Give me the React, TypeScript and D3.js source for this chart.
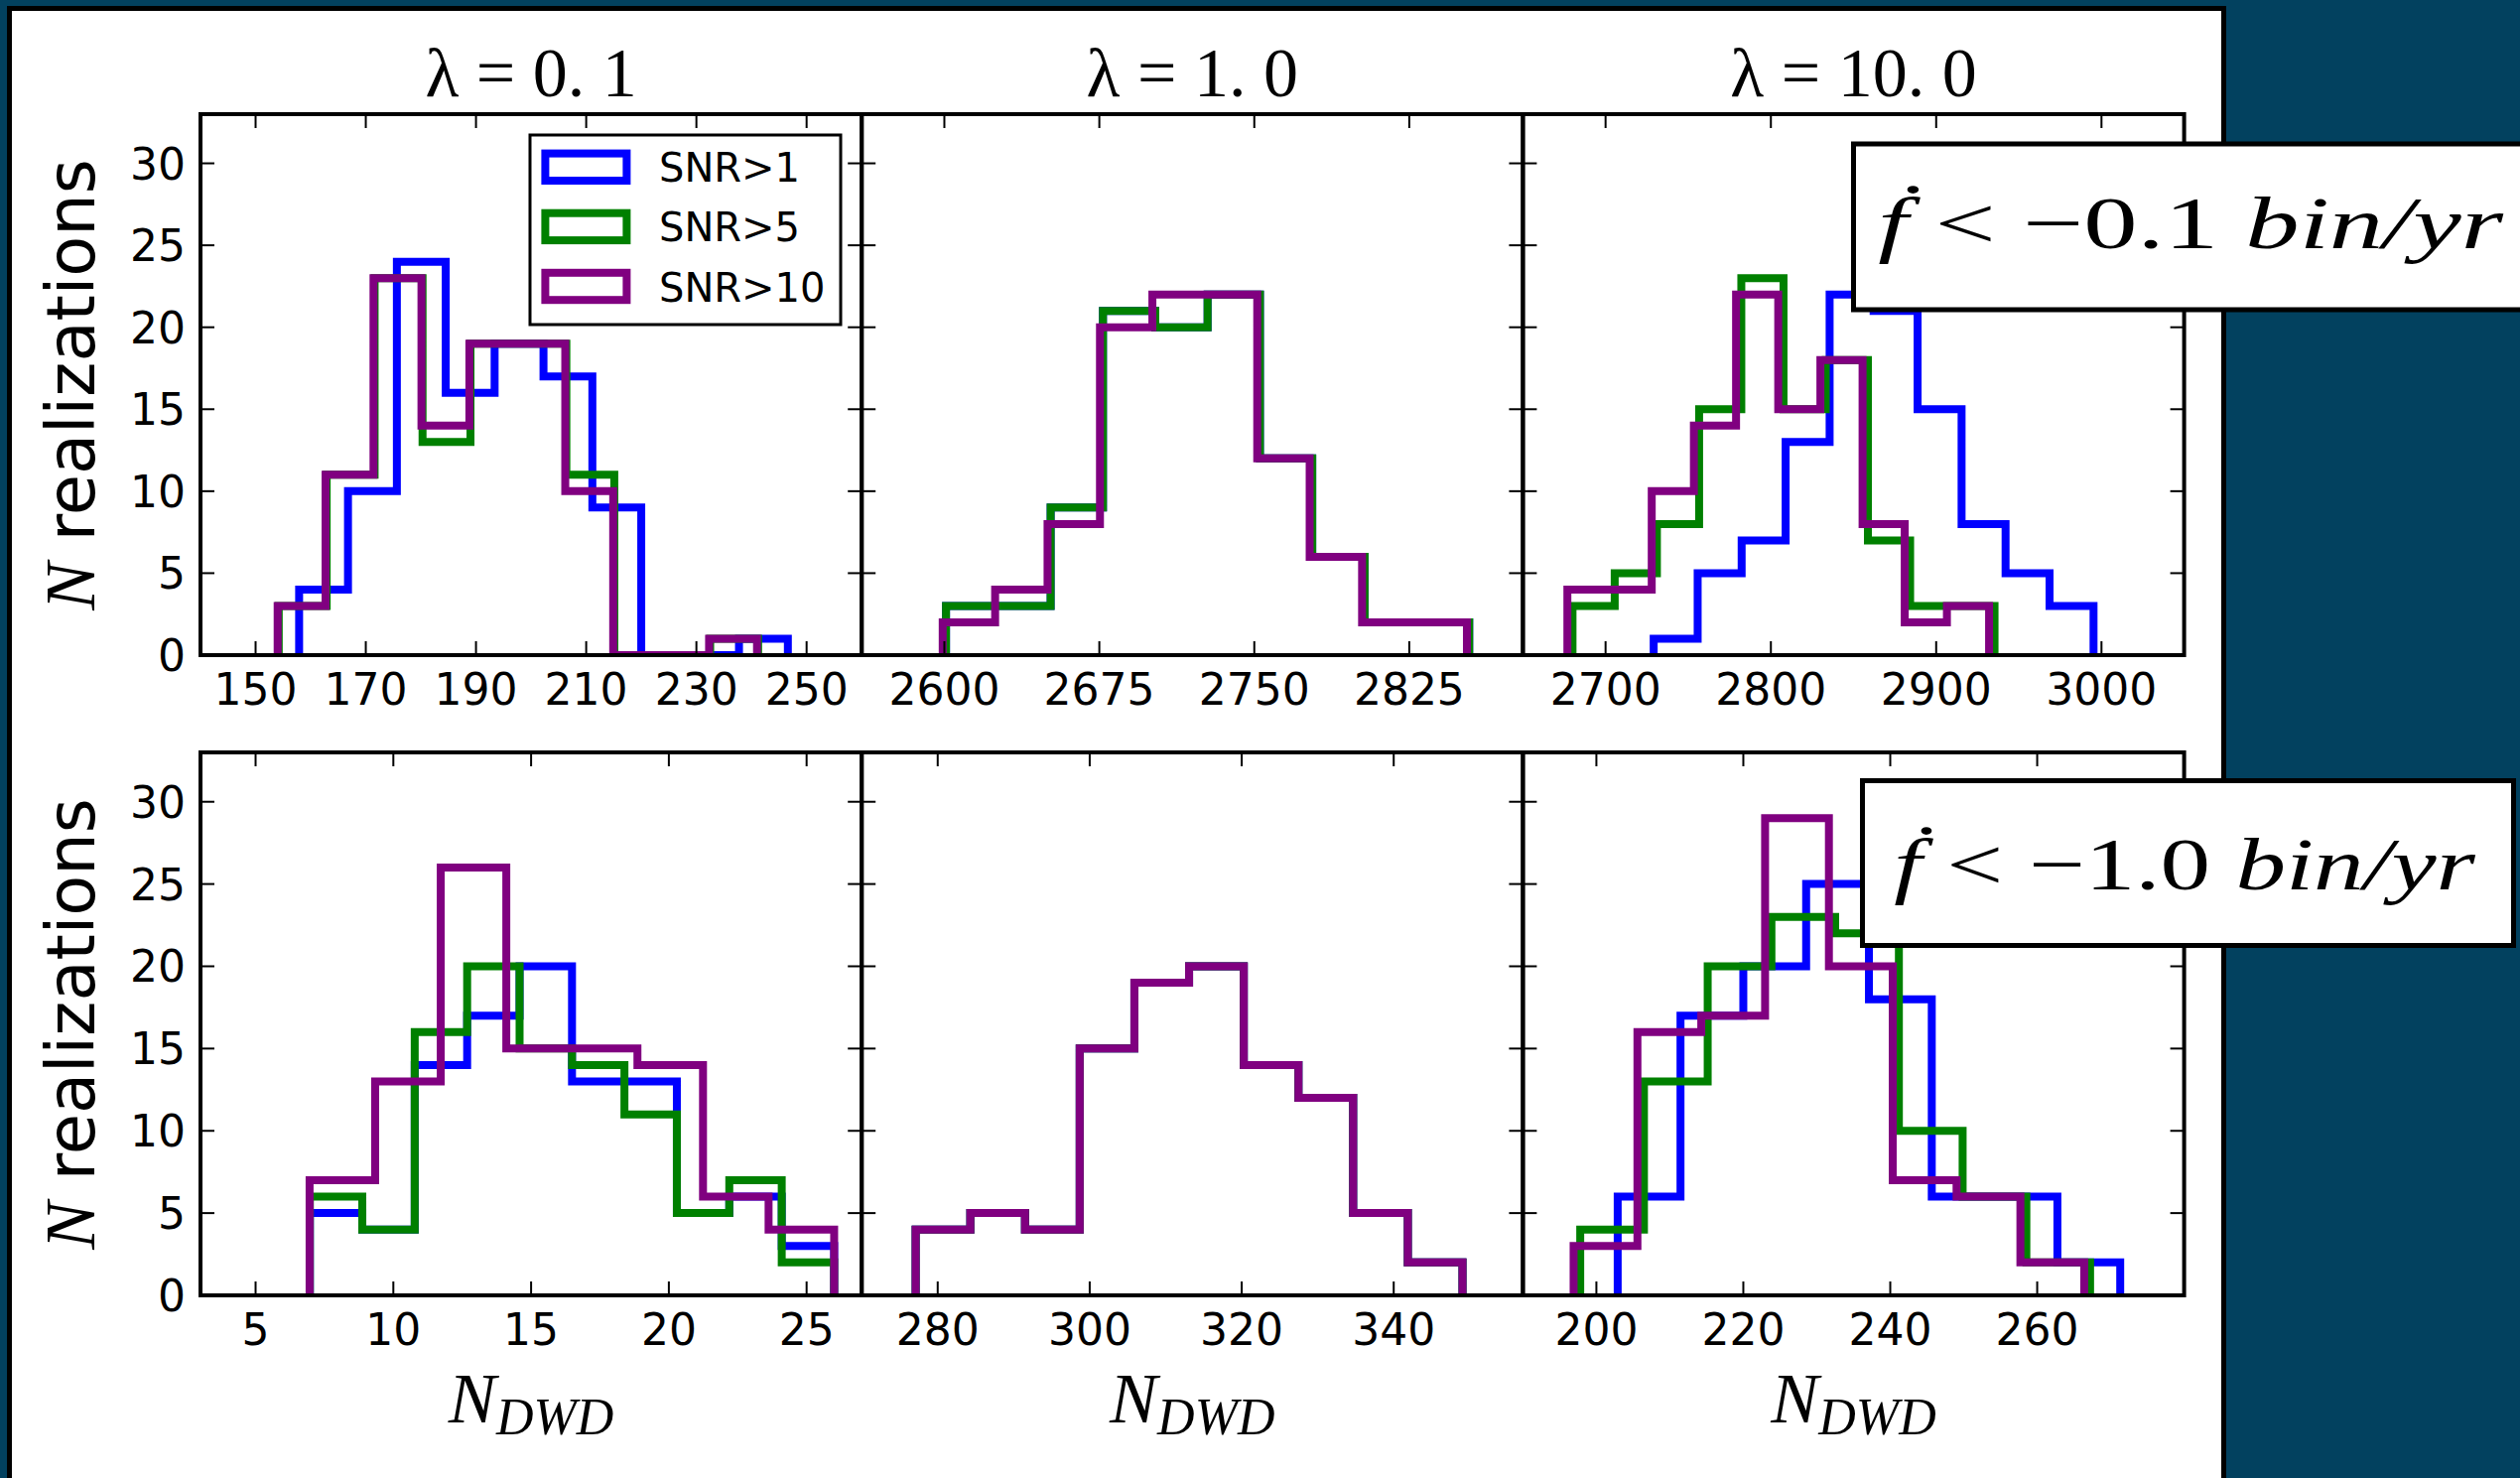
import React from 'react';
import * as d3 from 'd3';

const W = 2539;
const H = 1489;

// series + shared axis stuff
const seriesNames = ['SNR>1', 'SNR>5', 'SNR>10'];
const seriesColors = ['#0000ff', '#008000', '#800080'];
const columnTitles = ['0. 1', '1. 0', '10. 0'];
const rowNotes = ['−0.1', '−1.0'];
const yTicks = [0, 5, 10, 15, 20, 25, 30];
const yMax = 33;

// top row: fdot < -0.1 bin/yr
const xDomainsTop = [[140, 260], [2560, 2880], [2650, 3050]];
const xTicksTop = [
  [150, 170, 190, 210, 230, 250],
  [2600, 2675, 2750, 2825],
  [2700, 2800, 2900, 3000],
];
const rangesTopL01 = [[157.9, 246.6], [154.2, 241.2], [154.0, 241.0]];
const countsTopL01 = [
  [4, 10, 24, 16, 19, 17, 9, 0, 0, 1],
  [3, 11, 23, 13, 19, 19, 11, 0, 0, 1],
  [3, 11, 23, 14, 19, 19, 10, 0, 0, 1],
];
const rangesTopL1 = [[2600.8, 2854.0], [2600.8, 2854.0], [2599.2, 2852.9]];
const countsTopL1 = [
  [3, 3, 9, 21, 20, 22, 12, 6, 2, 2],
  [3, 3, 9, 21, 20, 22, 12, 6, 2, 2],
  [2, 4, 8, 20, 22, 22, 12, 6, 2, 2],
];
const rangesTopL10 = [[2729.1, 2995.2], [2680.0, 2935.3], [2676.9, 2932.0]];
const countsTopL10 = [
  [1, 5, 7, 13, 22, 21, 15, 8, 5, 3],
  [3, 5, 8, 15, 23, 15, 18, 7, 3, 3],
  [4, 4, 10, 14, 22, 15, 18, 8, 2, 3],
];

// bottom row: fdot < -1.0 bin/yr
const xDomainsBot = [[3, 27], [270, 357], [190, 280]];
const xTicksBot = [
  [5, 10, 15, 20, 25],
  [280, 300, 320, 340],
  [200, 220, 240, 260],
];
const rangesBotL01 = [[6.97, 26.0], [6.97, 26.0], [6.96, 26.0]];
const countsBotL01 = [
  [5, 4, 14, 17, 20, 13, 13, 5, 6, 3],
  [6, 4, 16, 20, 15, 14, 11, 5, 7, 2],
  [7, 13, 26, 15, 15, 14, 6, 4],
];
const rangesBotL1 = [[277.1, 349.05], [277.1, 349.05], [277.1, 349.05]];
const countsBotL1 = [
  [4, 5, 4, 15, 19, 20, 14, 12, 5, 2],
  [4, 5, 4, 15, 19, 20, 14, 12, 5, 2],
  [4, 5, 4, 15, 19, 20, 14, 12, 5, 2],
];
const rangesBotL10 = [[202.9, 271.3], [197.8, 267.2], [196.9, 266.4]];
const countsBotL10 = [
  [6, 17, 20, 25, 18, 6, 6, 2],
  [4, 13, 20, 23, 22, 10, 6, 2],
  [3, 16, 17, 29, 20, 7, 6, 2],
];

const rows = [
  { top: 115, bottom: 660, domains: xDomainsTop, ticks: xTicksTop,
    ranges: [rangesTopL01, rangesTopL1, rangesTopL10],
    counts: [countsTopL01, countsTopL1, countsTopL10] },
  { top: 758, bottom: 1305, domains: xDomainsBot, ticks: xTicksBot,
    ranges: [rangesBotL01, rangesBotL1, rangesBotL10],
    counts: [countsBotL01, countsBotL1, countsBotL10] },
];

const LEFT = 202;
const PW = 666.2;
const TICK = 14;
const sans = 'DejaVu Sans';
const serif = 'Liberation Serif, DejaVu Serif, serif';

// step outline like matplotlib histtype='step'
function stepPoints(range: number[], counts: number[]) {
  const n = counts.length;
  const edges = d3.range(n + 1).map((i) => range[0] + ((range[1] - range[0]) * i) / n);
  const pts: [number, number][] = [[edges[0], 0]];
  counts.forEach((c, i) => {
    pts.push([edges[i], c]);
    pts.push([edges[i + 1], c]);
  });
  pts.push([edges[n], 0]);
  return pts;
}

function Panel({ r, c }: { r: number; c: number }) {
  const row = rows[r];
  const x0 = LEFT + c * PW;
  const x = d3.scaleLinear().domain(row.domains[c]).range([x0, x0 + PW]);
  const y = d3.scaleLinear().domain([0, yMax]).range([row.bottom, row.top]);
  const line = d3.line<[number, number]>().x((d) => x(d[0])).y((d) => y(d[1]));
  const clipId = `clip-${r}-${c}`;

  return (
    <g>
      <clipPath id={clipId}>
        <rect x={x0} y={row.top} width={PW} height={row.bottom - row.top} />
      </clipPath>
      <g clipPath={`url(#${clipId})`}>
        {row.counts[c].map((cnt, s) => (
          <path key={s} d={line(stepPoints(row.ranges[c][s], cnt)) || ''}
            fill="none" stroke={seriesColors[s]} strokeWidth={8} strokeLinejoin="miter" />
        ))}
      </g>
      <rect x={x0} y={row.top} width={PW} height={row.bottom - row.top}
        fill="none" stroke="#000" strokeWidth={4} />
      {/* x ticks: bottom and top, pointing in */}
      {row.ticks[c].map((t) => (
        <g key={t}>
          <line x1={x(t)} x2={x(t)} y1={row.bottom} y2={row.bottom - TICK} stroke="#000" strokeWidth={2} />
          <line x1={x(t)} x2={x(t)} y1={row.top} y2={row.top + TICK} stroke="#000" strokeWidth={2} />
          <text x={x(t)} y={row.bottom + 50} textAnchor="middle" fontFamily={sans} fontSize={44}>{t}</text>
        </g>
      ))}
      {yTicks.map((t) => (
        <g key={t}>
          <line x1={x0} x2={x0 + TICK} y1={y(t)} y2={y(t)} stroke="#000" strokeWidth={2} />
          <line x1={x0 + PW} x2={x0 + PW - TICK} y1={y(t)} y2={y(t)} stroke="#000" strokeWidth={2} />
          {c === 0 && (
            <text x={187} y={y(t) + 16} textAnchor="end" fontFamily={sans} fontSize={44}>{t}</text>
          )}
        </g>
      ))}
      {c === 0 && (
        <text transform={`translate(95, ${(row.top + row.bottom) / 2}) rotate(-90)`} textAnchor="middle">
          <tspan fontFamily={serif} fontStyle="italic" fontSize={72}>N</tspan>
          <tspan fontFamily={sans} fontSize={67}> realizations</tspan>
        </text>
      )}
      {r === 0 && (
        <text x={x0 + PW / 2} y={97} textAnchor="middle" fontFamily={serif} fontSize={70}>
          {`λ = ${columnTitles[c]}`}
        </text>
      )}
      {r === 1 && (
        <text x={x0 + PW / 2} y={1433} textAnchor="middle" fontFamily={serif} fontStyle="italic" fontSize={72}>
          <tspan>N</tspan>
          <tspan fontSize={52} dy={12}>DWD</tspan>
        </text>
      )}
    </g>
  );
}

function Legend() {
  const cy = [168.3, 228.4, 288.5];
  return (
    <g>
      <rect x={534} y={136} width={313} height={191} fill="#fff" stroke="#000" strokeWidth={3} />
      {seriesNames.map((nm, i) => (
        <g key={nm}>
          <rect x={549.4} y={cy[i] - 13.7} width={82} height={27.4} fill="none"
            stroke={seriesColors[i]} strokeWidth={8} />
          <text x={664} y={cy[i] + 15} fontFamily={sans} fontSize={40}>{nm}</text>
        </g>
      ))}
    </g>
  );
}

function Note({ x, y, w, h, tx, ty, tw, val }: any) {
  return (
    <g>
      <rect x={x} y={y} width={w} height={h} fill="#fff" stroke="#000" strokeWidth={5} />
      <text x={tx} y={ty} fontFamily={serif} fontSize={75} textLength={tw} lengthAdjust="spacingAndGlyphs">
        <tspan fontStyle="italic">ḟ</tspan>
        <tspan>{` < ${val} `}</tspan>
        <tspan fontStyle="italic">bin/yr</tspan>
      </text>
    </g>
  );
}

export default function App() {
  return (
    <svg width={W} height={H} style={{ position: 'absolute', left: 0, top: 0 }}>
      <rect width={W} height={H} fill="#02415f" />
      <rect x={9.5} y={8.5} width={2231} height={1500} fill="#fff" stroke="#000" strokeWidth={5} />
      {rows.map((_, r) => [0, 1, 2].map((c) => <Panel key={`${r}${c}`} r={r} c={c} />))}
      <Legend />
      <Note x={1867.5} y={145} w={720} h={167} tx={1892} ty={250} tw={630} val={rowNotes[0]} />
      <Note x={1876.5} y={786.5} w={656} h={166} tx={1908} ty={896} tw={586} val={rowNotes[1]} />
    </svg>
  );
}
